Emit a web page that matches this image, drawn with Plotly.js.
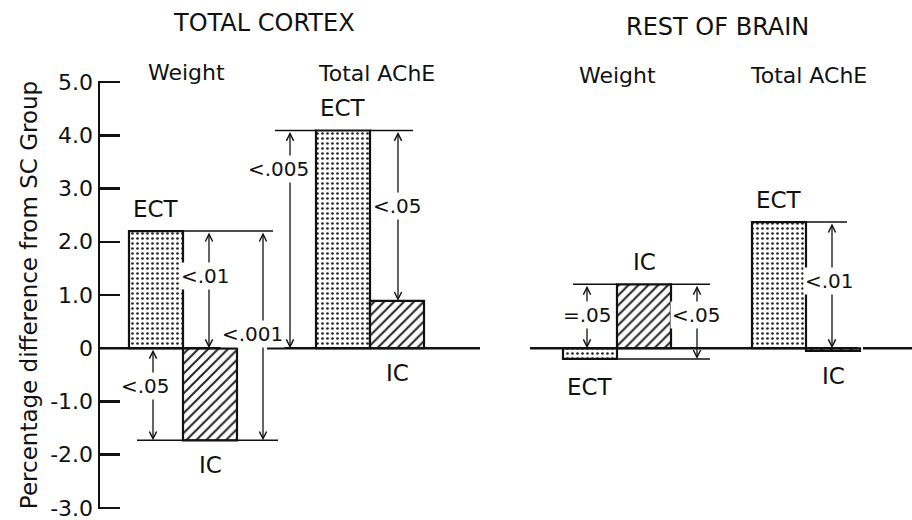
<!DOCTYPE html>
<html>
<head>
<meta charset="utf-8">
<script src="https://cdn.plot.ly/plotly-3.0.1.min.js"></script>
<style>html,body{margin:0;padding:0;background:#fff;}#chart{width:912px;height:520px;}</style>
</head>
<body>
<div id="chart"></div>
<script>
// ---- data ----
const panels = ['TOTAL CORTEX', 'REST OF BRAIN'];
const measures = ['Weight', 'Total AChE', 'Weight', 'Total AChE'];
const seriesNames = ['ECT', 'IC'];
const ectValues = [2.2, 4.09, -0.2, 2.37];
const icValues = [-1.73, 0.89, 1.2, -0.05];
const pLabels = ['<.01', '<.001', '<.05', '<.005', '<.05', '=.05', '<.05', '<.01'];
const yTickVals = [5, 4, 3, 2, 1, 0, -1, -2, -3];
const yTickText = ['5.0', '4.0', '3.0', '2.0', '1.0', '0', '-1.0', '-2.0', '-3.0'];
const yTitle = 'Percentage difference from SC Group';

// ---- layout constants (x axis runs in page-like units) ----
const groupSplit = [183, 370, 617, 806];
const barW = 54;
const FONT = 'DejaVu Sans, sans-serif';
const INK = '#111';

const ectTrace = {
  type: 'bar', name: seriesNames[0],
  x: groupSplit.map(c => c - barW / 2), y: ectValues, width: barW,
  marker: { color: '#fff', line: { color: INK, width: 2.2 },
    pattern: { shape: '.', fgcolor: '#222', bgcolor: '#fff', size: 5, solidity: 0.22 } },
  hoverinfo: 'skip', showlegend: false
};
const icTrace = {
  type: 'bar', name: seriesNames[1],
  x: groupSplit.map(c => c + barW / 2), y: icValues, width: barW,
  marker: { color: '#fff', line: { color: INK, width: 2.2 },
    pattern: { shape: '/', fgcolor: '#222', bgcolor: '#fff', size: 7, solidity: 0.28 } },
  hoverinfo: 'skip', showlegend: false
};

const shapes = [];
function hline(x0, x1, y, w) {
  shapes.push({ type: 'line', xref: 'x', yref: 'y', x0: x0, x1: x1, y0: y, y1: y,
    line: { color: INK, width: w || 1.5 } });
}
// zero baseline segments
hline(100, 236, 0, 2.5); hline(267, 480, 0, 2.5);
hline(530, 858, 0, 2.5); hline(863, 912, 0, 2.5);
// reference lines for the significance arrows
hline(183, 273, ectValues[0]);
hline(137, 278, icValues[0]);
hline(275, 317, ectValues[1]); hline(370, 413, ectValues[1]);
hline(573, 617, icValues[2]); hline(669, 710, icValues[2]);
hline(617, 710, ectValues[2]);
hline(806, 847, ectValues[3]);

const annotations = [];
// double-headed arrows
const arrows = [
  [209, ectValues[0], 0],
  [263, ectValues[0], icValues[0]],
  [153, 0, icValues[0]],
  [290, ectValues[1], 0],
  [398, ectValues[1], icValues[1]],
  [587, icValues[2], 0],
  [697, icValues[2], ectValues[2]],
  [832, ectValues[3], 0]
];
arrows.forEach(a => {
  annotations.push({ xref: 'x', yref: 'y', axref: 'x', ayref: 'y',
    x: a[0], y: a[2], ax: a[0], ay: a[1], text: '', showarrow: true,
    arrowside: 'end+start', arrowhead: 5, startarrowhead: 5,
    arrowsize: 1.1, startarrowsize: 1.1, arrowwidth: 1.3, arrowcolor: INK,
    standoff: 0, startstandoff: 0 });
});
// p-value labels (white box breaks the arrow line)
const pPos = [[205, 1.36], [252, 0.26], [145, -0.7], [278, 3.37], [397, 2.68],
              [587, 0.62], [696, 0.62], [829, 1.27]];
pLabels.forEach((t, i) => {
  annotations.push({ xref: 'x', yref: 'y', x: pPos[i][0], y: pPos[i][1], text: t,
    showarrow: false, bgcolor: '#fff', borderpad: 1,
    font: { family: FONT, size: 20, color: INK } });
});
// ECT / IC labels
ectValues.forEach((v, i) => {
  annotations.push({ xref: 'x', yref: 'y', x: groupSplit[i] - barW / 2,
    y: v > 0 ? v + 0.42 : v - 0.52, text: seriesNames[0], showarrow: false,
    font: { family: FONT, size: 23, color: INK } });
});
icValues.forEach((v, i) => {
  annotations.push({ xref: 'x', yref: 'y', x: groupSplit[i] + barW / 2,
    y: v > 1 ? v + 0.42 : Math.min(v, 0) - 0.47, text: seriesNames[1], showarrow: false,
    font: { family: FONT, size: 23, color: INK } });
});
// panel titles and measure headers
const plotTop = 81, plotBottom = 509;
const py = p => (plotBottom - p) / (plotBottom - plotTop);
[[264, 23, panels[0]], [717, 27, panels[1]]].forEach(p => {
  annotations.push({ xref: 'x', yref: 'paper', x: p[0], y: py(p[1]), yanchor: 'middle',
    text: p[2], showarrow: false, font: { family: FONT, size: 24, color: INK } });
});
[[186, 72, measures[0]], [376, 74, measures[1]], [617, 75, measures[2]], [808, 75, measures[3]]].forEach(m => {
  annotations.push({ xref: 'x', yref: 'paper', x: m[0], y: py(m[1]), yanchor: 'middle',
    text: m[2], showarrow: false, font: { family: FONT, size: 22, color: INK } });
});

const layout = {
  width: 912, height: 520,
  margin: { l: 100, r: 0, t: plotTop, b: 520 - plotBottom },
  paper_bgcolor: '#fff', plot_bgcolor: '#fff',
  barmode: 'overlay', showlegend: false,
  font: { family: FONT, color: INK },
  xaxis: { range: [100, 912], visible: false, fixedrange: true },
  yaxis: { range: [-3.02, 5.02], tickvals: yTickVals, ticktext: yTickText,
    ticks: 'inside', ticklen: 20, tickwidth: 2.5, tickcolor: INK,
    showline: true, linewidth: 2.5, linecolor: INK, ticklabeloverflow: 'allow',
    showgrid: false, zeroline: false, fixedrange: true,
    tickfont: { family: FONT, size: 22, color: INK },
    title: { text: yTitle, font: { family: FONT, size: 23, color: INK }, standoff: 6 } },
  shapes: shapes, annotations: annotations
};

Plotly.newPlot('chart', [ectTrace, icTrace], layout, { staticPlot: true, displayModeBar: false });
</script>
</body>
</html>
